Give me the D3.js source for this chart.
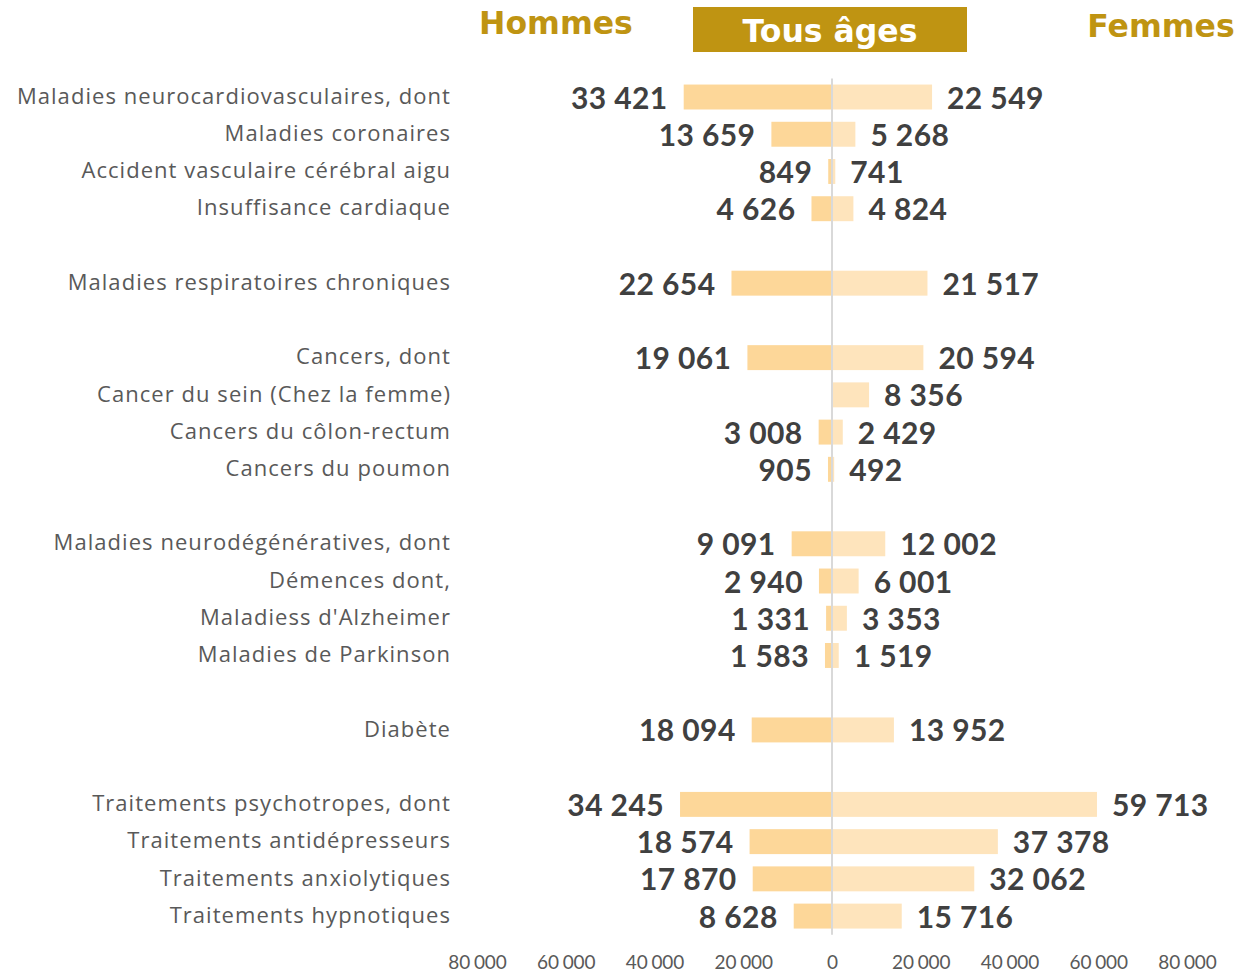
<!DOCTYPE html>
<html>
<head>
<meta charset="utf-8">
<script src="https://cdn.jsdelivr.net/npm/d3@7"></script>
<style>
  body { margin: 0; background: #fff; }
  svg { display: block; }
</style>
</head>
<body>
<div id="chart"></div>
<script>
// rows of the chart, empty strings are the gaps between groups
const categories = [
	'Maladies neurocardiovasculaires, dont',
	'Maladies coronaires',
	'Accident vasculaire cérébral aigu',
	'Insuffisance cardiaque',
	'',
	'Maladies respiratoires chroniques',
	'',
	'Cancers, dont',
	'Cancer du sein (Chez la femme)',
	'Cancers du côlon-rectum',
	'Cancers du poumon',
	'',
	'Maladies neurodégénératives, dont',
	'Démences dont,',
	"Maladiess d'Alzheimer",
	'Maladies de Parkinson',
	'',
	'Diabète',
	'',
	'Traitements psychotropes, dont',
	'Traitements antidépresseurs',
	'Traitements anxiolytiques',
	'Traitements hypnotiques'
]
const hommes = [33421, 13659, 849, 4626, null, 22654, null, 19061, null, 3008, 905, null,
	9091, 2940, 1331, 1583, null, 18094, null, 34245, 18574, 17870, 8628]
const femmes = [22549, 5268, 741, 4824, null, 21517, null, 20594, 8356, 2429, 492, null,
	12002, 6001, 3353, 1519, null, 13952, null, 59713, 37378, 32062, 15716]
const ticks = [-80000, -60000, -40000, -20000, 0, 20000, 40000, 60000, 80000]

const width = 1249, height = 973
const gold = '#bf9412'
const textGrey = '#404040'
const labelGrey = '#595959'

const fmt = v => d3.format(',')(Math.abs(v)).replace(/,/g, ' ')
const fmtValue = v => d3.format(',')(v).replace(/,/g, '\u00a0')

const svg = d3.select('#chart')
	.append('svg')
	.attr('width', width)
	.attr('height', height)

const x = d3.scaleLinear().domain([-80000, 80000]).range([477, 1187])
const y = d3.scaleBand()
	.domain(d3.range(categories.length))
	.range([78.4, 934.7])
	.paddingInner(0.33)
	.paddingOuter(0.165)

// headers
const headFont = 'bold 31.5px "DejaVu Sans", Verdana, sans-serif'
svg.append('text')
	.attr('x', 556).attr('y', 34)
	.attr('text-anchor', 'middle')
	.style('font', headFont)
	.style('fill', gold)
	.text('Hommes')
svg.append('rect')
	.attr('x', 693).attr('y', 7)
	.attr('width', 274).attr('height', 45)
	.style('fill', gold)
svg.append('text')
	.attr('x', 830).attr('y', 42)
	.attr('text-anchor', 'middle')
	.style('font', headFont)
	.style('fill', '#fff')
	.text('Tous âges')
svg.append('text')
	.attr('x', 1161).attr('y', 37)
	.attr('text-anchor', 'middle')
	.style('font', headFont)
	.style('fill', gold)
	.text('Femmes')

const rows = categories.map((c, i) => ({c, i, h: hommes[i], f: femmes[i]}))

// category labels
svg.append('g')
	.selectAll('text')
	.data(rows.filter(d => d.c))
	.enter()
	.append('text')
	.attr('x', 451)
	.attr('y', d => y(d.i) + y.bandwidth() / 2 - 1)
	.attr('dy', '0.35em')
	.attr('text-anchor', 'end')
	.style('font', '22px "Open Sans", sans-serif')
	.style('letter-spacing', '1.05px')
	.style('fill', labelGrey)
	.text(d => d.c)

// bars
svg.append('g')
	.selectAll('rect')
	.data(rows.filter(d => d.h != null))
	.enter()
	.append('rect')
	.attr('x', d => x(-d.h))
	.attr('y', d => y(d.i))
	.attr('width', d => x(0) - x(-d.h))
	.attr('height', y.bandwidth())
	.style('fill', '#fdd799')

svg.append('g')
	.selectAll('rect')
	.data(rows.filter(d => d.f != null))
	.enter()
	.append('rect')
	.attr('x', x(0))
	.attr('y', d => y(d.i))
	.attr('width', d => x(d.f) - x(0))
	.attr('height', y.bandwidth())
	.style('fill', '#fee4bc')

// centre line
svg.append('line')
	.attr('x1', x(0)).attr('x2', x(0))
	.attr('y1', y.range()[0]).attr('y2', y.range()[1])
	.style('stroke', '#d9d9d9')
	.style('stroke-width', 2)

// value labels
const valFont = 'bold 30px Lato, "Open Sans", sans-serif'
svg.append('g')
	.selectAll('text')
	.data(rows.filter(d => d.h != null))
	.enter()
	.append('text')
	.attr('x', d => x(-d.h) - 16)
	.attr('y', d => y(d.i) + y.bandwidth() / 2 + 1)
	.attr('dy', '0.35em')
	.attr('text-anchor', 'end')
	.style('font', valFont)
	.style('letter-spacing', '0.4px')
	.style('fill', textGrey)
	.text(d => fmtValue(d.h))

svg.append('g')
	.selectAll('text')
	.data(rows.filter(d => d.f != null))
	.enter()
	.append('text')
	.attr('x', d => x(d.f) + 15)
	.attr('y', d => y(d.i) + y.bandwidth() / 2 + 1)
	.attr('dy', '0.35em')
	.attr('text-anchor', 'start')
	.style('font', valFont)
	.style('letter-spacing', '0.4px')
	.style('fill', textGrey)
	.text(d => fmtValue(d.f))

// bottom axis
const axis = svg.append('g')
	.attr('transform', 'translate(0,955)')
	.call(d3.axisBottom(x).tickValues(ticks).tickFormat(fmt).tickSize(0).tickPadding(0))
axis.select('.domain').remove()
axis.selectAll('text')
	.attr('dy', '0.71em')
	.style('font', '19px Lato, "Open Sans", sans-serif')
	.style('letter-spacing', '-0.1px')
	.style('word-spacing', '-1px')
	.style('fill', labelGrey)
</script>
</body>
</html>
